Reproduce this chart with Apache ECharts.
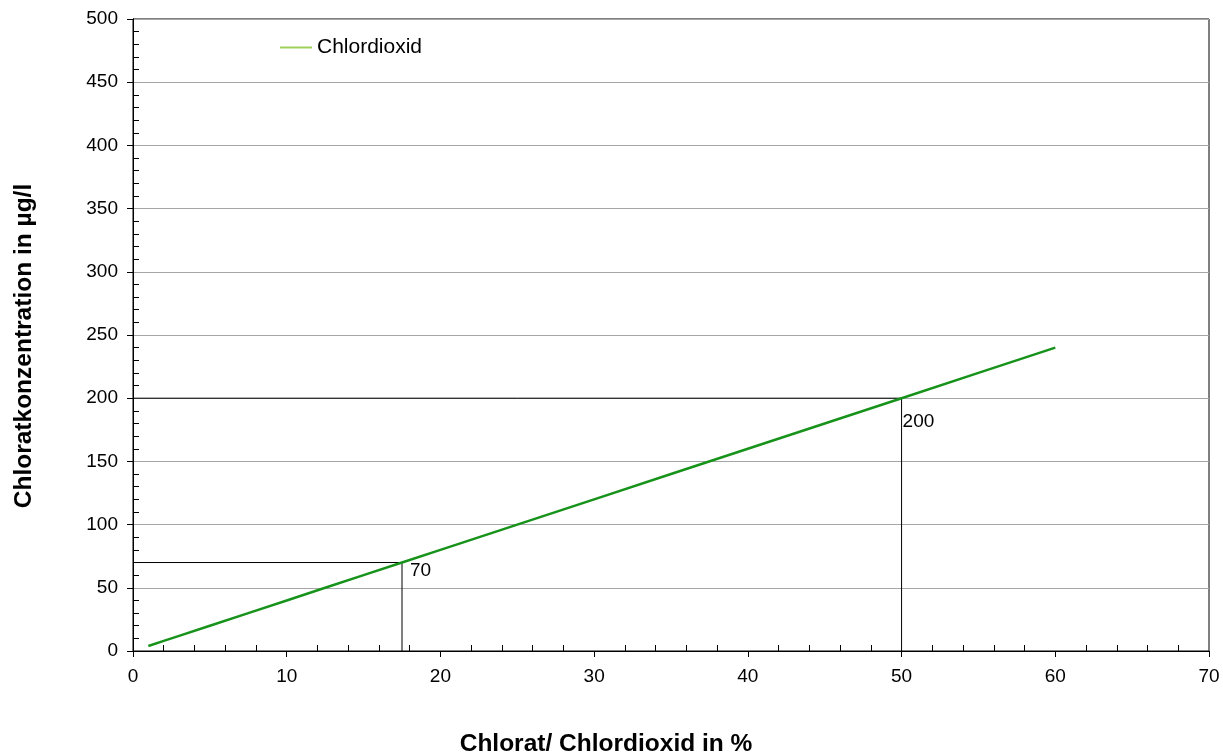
<!DOCTYPE html>
<html>
<head>
<meta charset="utf-8">
<script src="https://cdn.jsdelivr.net/npm/echarts@6/dist/echarts.min.js"></script>
<style>html,body{margin:0;padding:0;background:#fff}#c{width:1223px;height:752px}</style>
</head>
<body>
<div id="c"></div>
<script>
const seriesName = 'Chlordioxid';
const chlorPercent = [1, 2, 3, 5, 7.5, 10, 12.5, 15, 17.5, 20, 25, 30, 35, 40, 45, 50, 55, 60];
const chloratValues = [4, 8, 12, 20, 30, 40, 50, 60, 70, 80, 100, 120, 140, 160, 180, 200, 220, 240];
const refA = [[0, 70], [17.5, 70], [17.5, 0]];
const refB = [[0, 200], [50, 200], [50, 0]];
const refLabels = ['70', '200'];
const xTitle = 'Chlorat/ Chlordioxid in %';
const yTitle = 'Chloratkonzentration in µg/l';

const font = '"Liberation Sans", Arial, sans-serif';
const chart = echarts.init(document.getElementById('c'), null, {renderer: 'canvas'});

const baseX = {
  type: 'value', min: 0, max: 70, interval: 10,
  axisLine: {show: true, lineStyle: {color: '#000', width: 1}},
};
const baseY = {
  type: 'value', min: 0, max: 500, interval: 50,
  axisLine: {show: true, lineStyle: {color: '#000', width: 1}},
};

chart.setOption({
  animation: false,
  backgroundColor: '#fff',
  grid: {left: 133, right: 14, top: 19, bottom: 101, containLabel: false, outerBoundsMode: 'none',
         show: true, borderColor: '#000', borderWidth: 1},
  legend: {
    show: true,
    left: 275, top: 32, itemWidth: 32, itemHeight: 2, itemGap: 4,
    icon: 'rect',
    data: [{name: seriesName, itemStyle: {color: '#9fd05c'}}],
    textStyle: {fontFamily: font, fontSize: 21, color: '#000'}
  },
  xAxis: [
    Object.assign({}, baseX, {
      name: xTitle, nameLocation: 'middle', nameGap: 81,
      nameTextStyle: {fontFamily: font, fontSize: 24.5, fontWeight: 'bold', color: '#000', padding: [0, 130, 0, 0]},
      axisTick: {show: true, inside: false, length: 6, lineStyle: {color: '#000'}},
      axisLabel: {fontFamily: font, fontSize: 19, color: '#000', margin: 16},
      splitLine: {show: false}
    }),
    Object.assign({}, baseX, {
      position: 'bottom',
      axisTick: {show: true, inside: true, length: 0},
      minorTick: {show: true, splitNumber: 5, length: 6, lineStyle: {color: '#000'}},
      axisLabel: {show: false},
      splitLine: {show: false}
    })
  ],
  yAxis: [
    Object.assign({}, baseY, {
      name: yTitle, nameLocation: 'middle', nameGap: 96,
      nameTextStyle: {fontFamily: font, fontSize: 24.5, fontWeight: 'bold', color: '#000', padding: [0, 22, 0, 0]},
      axisTick: {show: true, inside: false, length: 6, lineStyle: {color: '#000'}},
      axisLabel: {fontFamily: font, fontSize: 19, color: '#000', margin: 15},
      splitLine: {show: true, lineStyle: {color: '#a6a6a6', width: 1}}
    }),
    Object.assign({}, baseY, {
      position: 'left',
      axisTick: {show: true, inside: true, length: 0},
      minorTick: {show: true, splitNumber: 5, length: 6, lineStyle: {color: '#000'}},
      axisLabel: {show: false},
      splitLine: {show: false}
    })
  ],
  series: [
    {
      type: 'line', name: 'refA', data: refA, xAxisIndex: 0, yAxisIndex: 0,
      symbol: 'none', lineStyle: {color: '#000', width: 1}, silent: true, z: 3,
      markPoint: {
        symbol: 'circle', symbolSize: 0,
        label: {show: true, formatter: refLabels[0], position: 'right', offset: [3, 8], fontFamily: font, fontSize: 19, color: '#000'},
        data: [{coord: refA[1]}]
      }
    },
    {
      type: 'line', name: 'refB', data: refB, xAxisIndex: 0, yAxisIndex: 0,
      symbol: 'none', lineStyle: {color: '#000', width: 1}, silent: true, z: 3,
      markPoint: {
        symbol: 'circle', symbolSize: 0,
        label: {show: true, formatter: refLabels[1], position: 'right', offset: [-4, 24], fontFamily: font, fontSize: 19, color: '#000'},
        data: [{coord: refB[1]}]
      }
    },
    {
      type: 'line', name: seriesName, xAxisIndex: 0, yAxisIndex: 0,
      data: chlorPercent.map((x, i) => [x, chloratValues[i]]),
      symbol: 'none', lineStyle: {color: '#17921a', width: 2.5}, itemStyle: {color: '#92c83e'}, z: 4
    }
  ]
});
</script>
</body>
</html>
